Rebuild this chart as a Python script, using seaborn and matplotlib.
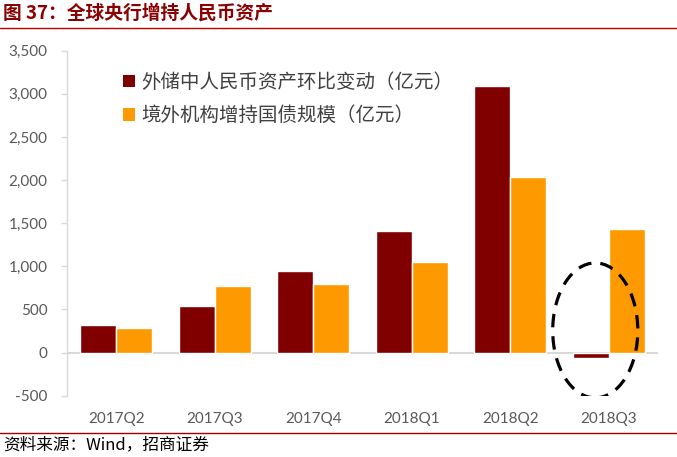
import matplotlib
matplotlib.use("Agg")
import matplotlib.pyplot as plt
import seaborn as sns
import pandas as pd
from matplotlib.patches import Ellipse, Patch
from matplotlib.lines import Line2D
from matplotlib.ticker import FuncFormatter

categories = ["2017Q2", "2017Q3", "2017Q4", "2018Q1", "2018Q2", "2018Q3"]
reserve_change = [320, 540, 950, 1415, 3090, -58]
bond_holdings = [285, 770, 800, 1050, 2030, 1430]
series_names = ["外储中人民币资产环比变动（亿元）", "境外机构增持国债规模（亿元）"]
colors = ["#800000", "#FF9900"]

df = pd.DataFrame({
    "quarter": categories * 2,
    "value": reserve_change + bond_holdings,
    "series": [series_names[0]] * len(categories) + [series_names[1]] * len(categories),
})

sns.set_theme(style="white")
plt.rcParams["font.family"] = ["Lato", "Noto Sans CJK SC", "DejaVu Sans"]

fig = plt.figure(figsize=(6.77, 4.57), dpi=100)
ax = fig.add_axes([67 / 677, 1 - 395.7 / 457, 591 / 677, 345 / 457])

sns.barplot(data=df, x="quarter", y="value", hue="series", palette=colors,
            width=0.73, gap=0, saturation=1, ax=ax, legend=False, errorbar=None)

ax.set_xlim(-0.5, 5.5)
ax.set_ylim(-500, 3500)
ax.set_yticks(range(-500, 3501, 500))
ax.yaxis.set_major_formatter(FuncFormatter(lambda v, p: f"{int(v):,}"))
ax.set_xlabel("")
ax.set_ylabel("")
ax.axhline(0, color="#D9D9D9", lw=1.5, zorder=0.5)

for s in ["top", "right", "bottom"]:
    ax.spines[s].set_visible(False)
ax.spines["left"].set_color("#D9D9D9")
ax.spines["left"].set_linewidth(1.0)
ax.tick_params(axis="y", length=4, width=1, color="#D9D9D9", pad=10,
               labelsize=11, labelcolor="#595959", left=True)
ax.tick_params(axis="x", length=0, pad=12, labelsize=11, labelcolor="#595959")

ell = Ellipse((4.863, 257), width=0.864, height=1564, fill=False,
              edgecolor="black", lw=2.3, linestyle=(0, (4.2, 2.8)), zorder=5)
ax.add_patch(ell)

handles = [Patch(facecolor=c, edgecolor="none") for c in colors]
leg = ax.legend(handles, series_names, loc="upper left",
                bbox_to_anchor=(0.065, 0.99), frameon=False,
                handlelength=0.6, handleheight=0.6,
                handletextpad=0.35, labelspacing=0.65,
                prop={"family": ["Noto Sans CJK SC"], "size": 14})
for t in leg.get_texts():
    t.set_color("#404040")

fig.text(0.004, 1 - 13 / 457, "图 37：全球央行增持人民币资产", ha="left", va="center",
         fontsize=13.5, fontweight="bold", color="#8B0000",
         family=["Noto Sans CJK SC", "DejaVu Sans"])
fig.add_artist(Line2D([0, 1], [1 - 28 / 457, 1 - 28 / 457], color="#C00000", lw=1.0))
fig.add_artist(Line2D([0, 1], [1 - 433 / 457, 1 - 433 / 457], color="#A00000", lw=1.0))
fig.text(0.004, 1 - 445 / 457, "资料来源：Wind，招商证券", ha="left", va="center",
         fontsize=12, color="black", family=["Noto Sans CJK SC", "DejaVu Sans"])

fig.savefig("out.png", dpi=100)
